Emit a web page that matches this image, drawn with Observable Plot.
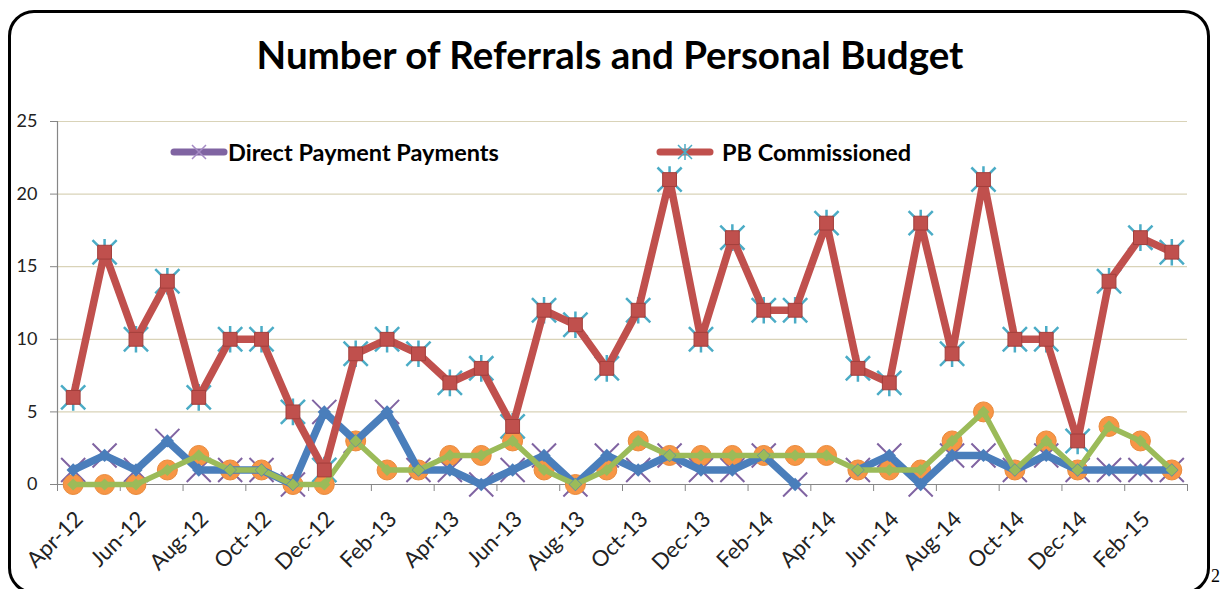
<!DOCTYPE html>
<html>
<head>
<meta charset="utf-8">
<script src="https://cdn.jsdelivr.net/npm/d3@7"></script>
<script src="https://cdn.jsdelivr.net/npm/@observablehq/plot@0.6"></script>
<style>
  html, body { margin: 0; padding: 0; background: #fff; }
  #wrap { position: relative; width: 1220px; height: 589px; overflow: hidden; font-family: Lato, "Open Sans", sans-serif; }
  #frame { position: absolute; left: 8px; top: 10px; width: 1202px; height: 584px; border: 3px solid #000; border-radius: 26px; box-sizing: border-box; }
  #title { position: absolute; left: 0; top: 31px; width: 1220px; text-align: center; font-weight: bold; font-size: 38.5px; color: #000; white-space: nowrap; }
  #chart { position: absolute; left: 0; top: 0; }
  .leg { position: absolute; display: flex; align-items: center; font-weight: bold; font-size: 23.5px; color: #000; white-space: nowrap; }
  #pagenum { position: absolute; left: 1211px; top: 566px; font-family: "Liberation Serif", serif; font-size: 18px; color: #000; }
</style>
</head>
<body>
<div id="wrap">
  <div id="frame"></div>
  <div id="title">Number of Referrals and Personal Budget</div>
  <div id="chart"></div>
  <div id="pagenum">2</div>
</div>
<script>
// ---- Data ----
const months = [
  "Apr-12","May-12","Jun-12","Jul-12","Aug-12","Sep-12","Oct-12","Nov-12","Dec-12",
  "Jan-13","Feb-13","Mar-13","Apr-13","May-13","Jun-13","Jul-13","Aug-13","Sep-13",
  "Oct-13","Nov-13","Dec-13","Jan-14","Feb-14","Mar-14","Apr-14","May-14","Jun-14",
  "Jul-14","Aug-14","Sep-14","Oct-14","Nov-14","Dec-14","Jan-15","Feb-15","Mar-15"
];
const directPaymentPayments = [
  1,2,1,3,1,1,1,0,5,
  3,5,1,1,0,1,2,0,2,
  1,2,1,1,2,0,null,1,2,
  0,2,2,1,2,1,1,1,1
];
const pbCommissioned = [
  6,16,10,14,6,10,10,5,1,
  9,10,9,7,8,4,12,11,8,
  12,21,10,17,12,12,18,8,7,
  18,9,21,10,10,3,14,17,16
];
const thirdSeries = [
  0,0,0,1,2,1,1,0,0,
  3,1,1,2,2,3,1,0,1,
  3,2,2,2,2,2,2,1,1,
  1,3,5,1,3,1,4,3,1
];
const yTicks = [0, 5, 10, 15, 20, 25];
const seriesNames = ["Direct Payment Payments", "PB Commissioned"];

// ---- Colours ----
const cBlue = "#4a7ebb", cRed = "#c0504d", cGreen = "#9bbb59";
const cPurple = "#8064a2", cAqua = "#4bacc6", cOrange = "#f79646";

const rows = months.map((m, i) => ({
  i, month: m,
  dp: directPaymentPayments[i],
  pb: pbCommissioned[i],
  s3: thirdSeries[i]
}));

// Excel-like "star" marker: X plus vertical stroke
const star = {
  draw(context, size) {
    const r = Math.sqrt(size) * 0.62;
    context.moveTo(-r, -r); context.lineTo(r, r);
    context.moveTo(-r, r); context.lineTo(r, -r);
    context.moveTo(0, -r * 1.1); context.lineTo(0, r * 1.1);
  }
};

const labelIdx = months.map((_, i) => i).filter(i => i % 2 === 0);
const boundaries = d3.range(-0.5, months.length, 2).concat([months.length - 0.5]);

const plot = Plot.plot({
  width: 1220,
  height: 589,
  marginLeft: 57,
  marginRight: 33,
  marginTop: 121,
  marginBottom: 105,
  style: { fontFamily: "Lato, 'Open Sans', sans-serif", background: "transparent", overflow: "visible" },
  x: { type: "linear", domain: [-0.5, months.length - 0.5] },
  y: { domain: [0, 25] },
  marks: [
    Plot.gridY(yTicks.filter(d => d > 0), { stroke: "#d9d3b8", strokeOpacity: 1, strokeWidth: 1.2 }),
    Plot.ruleX([-0.5], { stroke: "#868686", strokeWidth: 1.2, y1: 0, y2: 25 }),
    Plot.ruleY([0], { stroke: "#868686", strokeWidth: 1.2 }),
    Plot.axisY({ ticks: yTicks, tickSize: 7, tickPadding: 13, fontSize: 18, stroke: "#868686", color: "#222", label: null }),
    Plot.axisX({ ticks: boundaries, tickSize: 7, tickFormat: () => "", stroke: "#868686", label: null }),
    Plot.axisX({ ticks: labelIdx, tickSize: 0, tickPadding: 31, dx: 6, tickRotate: -45, tickFormat: i => months[i], fontSize: 22, color: "#222", label: null }),

    // companion marker series (drawn underneath)
    Plot.dot(rows, { x: "i", y: "dp", symbol: "times", r: 11, stroke: cPurple, strokeWidth: 2, filter: d => d.dp != null }),
    Plot.dot(rows, { x: "i", y: "pb", symbol: star, r: 11, stroke: cAqua, strokeWidth: 2.5 }),
    Plot.dot(rows, { x: "i", y: "s3", r: 10, fill: cOrange, stroke: "#e98a3c", strokeWidth: 1 }),

    // main lines
    Plot.line(rows, { x: "i", y: "dp", stroke: cBlue, strokeWidth: 7.5, strokeLinejoin: "miter" }),
    Plot.line(rows, { x: "i", y: "pb", stroke: cRed, strokeWidth: 7.5, strokeLinejoin: "miter" }),
    Plot.line(rows, { x: "i", y: "s3", stroke: cGreen, strokeWidth: 5.5, strokeLinejoin: "miter" }),

    // main markers
    Plot.dot(rows, { x: "i", y: "dp", symbol: "diamond2", r: 6, fill: cBlue, filter: d => d.dp != null }),
    Plot.dot(rows, { x: "i", y: "pb", symbol: "square", r: 7.8, fill: cRed, stroke: "#a33f3c", strokeWidth: 1 }),
    Plot.dot(rows, { x: "i", y: "s3", symbol: "diamond2", r: 5.5, fill: cGreen })
  ]
});
document.getElementById("chart").appendChild(plot);

// ---- Legend (HTML overlay) ----
function legendItem(name, lineColor, markColor, kind, left, top, gap) {
  const div = document.createElement("div");
  div.className = "leg";
  div.style.left = left + "px";
  div.style.top = top + "px";
  const ns = "http://www.w3.org/2000/svg";
  const svg = document.createElementNS(ns, "svg");
  svg.setAttribute("width", 58); svg.setAttribute("height", 24);
  const ln = document.createElementNS(ns, "line");
  ln.setAttribute("x1", 4); ln.setAttribute("x2", 54); ln.setAttribute("y1", 12); ln.setAttribute("y2", 12);
  ln.setAttribute("stroke", lineColor); ln.setAttribute("stroke-width", 7); ln.setAttribute("stroke-linecap", "round");
  svg.appendChild(ln);
  const p = document.createElementNS(ns, "path");
  const r = 7;
  let d = `M${29 - r},${12 - r}L${29 + r},${12 + r}M${29 - r},${12 + r}L${29 + r},${12 - r}`;
  if (kind === "star") d += `M29,${12 - r - 1}L29,${12 + r + 1}`;
  p.setAttribute("d", d);
  p.setAttribute("stroke", markColor); p.setAttribute("stroke-width", 1.5); p.setAttribute("fill", "none");
  svg.appendChild(p);
  div.appendChild(svg);
  const t = document.createElement("span");
  t.textContent = name;
  t.style.marginLeft = gap + "px";
  div.appendChild(t);
  document.getElementById("wrap").appendChild(div);
}
legendItem(seriesNames[0], cPurple, "#a58bc4", "times", 170, 138, 0);
legendItem(seriesNames[1], cRed, cAqua, "star", 656, 138, 8);
</script>
</body>
</html>
